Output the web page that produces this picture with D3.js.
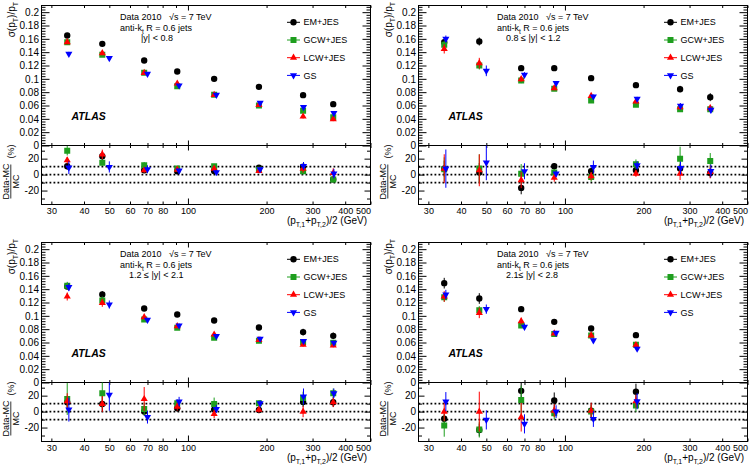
<!DOCTYPE html>
<html lang="en">
<head>
<meta charset="utf-8">
<title>Jet pT resolution, data 2010</title>
<script src="https://cdn.jsdelivr.net/npm/d3@7"></script>
<style>
  body { margin: 0; background: #fff; }
  svg { font-family: "Liberation Sans", Arial, sans-serif; }
</style>
</head>
<body>
<script>

// mean (pT1+pT2)/2 of each bin, GS points are drawn slightly shifted
var ptMean   = [34.5, 47, 68, 91, 126, 187, 276, 360];
var ptMeanGS = [35, 50, 70, 92.5, 128.5, 189, 277, 362];

var seriesNames = ["EM+JES", "GCW+JES", "LCW+JES", "GS"];
var seriesColors = ["#000000", "#1e9e1e", "#ff0000", "#0000ff"];
var rapidityText = ["|y| < 0.8", "0.8 \u2264 |y| < 1.2", "1.2 \u2264 |y| < 2.1", "2.1\u2264 |y| < 2.8"];
var xTickLabels = [30, 40, 50, 60, 70, 80, 100, 200, 300, 400, 500];

// sigma(pT)/pT, one row per rapidity panel
var resEM = [
  [0.165, 0.1525, 0.1275, 0.111, 0.100, 0.088, 0.0755, 0.062],
  [0.155, 0.156, 0.116, 0.116, 0.101, 0.0905, 0.0845, 0.0725],
  [0.144, 0.132, 0.111, 0.102, 0.093, 0.0826, 0.0756, 0.070],
  [0.149, 0.126, 0.110, 0.091, 0.081, 0.071]
];
var resGCW = [
  [0.155, 0.136, 0.109, 0.089, 0.076, 0.060, 0.052, 0.0425],
  [0.151, 0.120, 0.0975, 0.085, 0.0675, 0.061, 0.0545, 0.0545],
  [0.145, 0.123, 0.0945, 0.082, 0.067, 0.0627, 0.0607, 0.0597],
  [0.128, 0.1085, 0.0856, 0.0726, 0.0706, 0.0567]
];
var resLCW = [
  [0.155, 0.1385, 0.109, 0.093, 0.076, 0.061, 0.0435, 0.0395],
  [0.145, 0.1235, 0.0995, 0.086, 0.0745, 0.066, 0.0575, 0.056],
  [0.129, 0.1195, 0.098, 0.0846, 0.072, 0.0637, 0.0567, 0.0557],
  [0.129, 0.1045, 0.092, 0.0736, 0.0706, 0.0562]
];
var resGS = [
  [0.1375, 0.131, 0.1075, 0.090, 0.076, 0.064, 0.0575, 0.0485],
  [0.160, 0.112, 0.106, 0.0935, 0.0735, 0.070, 0.0595, 0.0535],
  [0.143, 0.117, 0.094, 0.0856, 0.0697, 0.0657, 0.0622, 0.0597],
  [0.132, 0.110, 0.0836, 0.0746, 0.0632, 0.0507]
];

// errors on sigma(pT)/pT
var resErrEM = [
  [0.002, 0.002, 0.002, 0.002, 0.002, 0.002, 0.002, 0.002],
  [0.004, 0.006, 0.004, 0.003, 0.003, 0.003, 0.005, 0.006],
  [0.004, 0.005, 0.003, 0.003, 0.003, 0.003, 0.005, 0.005],
  [0.008, 0.008, 0.004, 0.003, 0.003, 0.004]
];
var resErrGCW = [
  [0.003, 0.003, 0.002, 0.002, 0.002, 0.002, 0.003, 0.003],
  [0.006, 0.006, 0.004, 0.003, 0.003, 0.003, 0.004, 0.004],
  [0.006, 0.006, 0.003, 0.003, 0.003, 0.003, 0.004, 0.004],
  [0.007, 0.006, 0.004, 0.003, 0.003, 0.003]
];
var resErrLCW = [
  [0.003, 0.003, 0.002, 0.002, 0.002, 0.002, 0.003, 0.003],
  [0.007, 0.008, 0.004, 0.003, 0.003, 0.003, 0.004, 0.005],
  [0.006, 0.006, 0.003, 0.003, 0.003, 0.003, 0.003, 0.003],
  [0.008, 0.008, 0.005, 0.003, 0.003, 0.003]
];
var resErrGS = [
  [0.003, 0.003, 0.002, 0.002, 0.002, 0.002, 0.003, 0.003],
  [0.005, 0.008, 0.004, 0.003, 0.003, 0.003, 0.004, 0.005],
  [0.006, 0.006, 0.003, 0.003, 0.003, 0.003, 0.003, 0.003],
  [0.007, 0.007, 0.005, 0.003, 0.003, 0.003]
];

// (Data-MC)/MC in %
var diffEM = [
  [10.4, 23, 5.4, 4.2, 4.6, 8.7, 9.8, -6],
  [7.5, 2.5, -16.7, 10.4, 4.2, 5.4, 7.5, 2],
  [11.7, 9.6, 0, 4.2, 2.5, 2, 12, 11.7],
  [-9, -23, 26, 14, 1, 25]
];
var diffGCW = [
  [30, 15, 11.7, 7.5, 10.4, 6.2, 4.2, -6],
  [6.7, 7.5, 1.2, 2.5, -3, 13, 20, 17],
  [15.8, 23, 3.3, 10.4, 9.6, 10.4, 17, 23],
  [-17.5, -22.5, 14.6, -2, 0, 7.5]
];
var diffLCW = [
  [18, 25.4, 5.4, 6.2, 7.5, 4.6, 7.5, 2],
  [7.5, 5.4, -7, -4, -2, 1.2, 1.2, 3.3],
  [13, 9.6, 15.8, 6.2, -3, 2.5, 0, 11.7],
  [0, 0, -7, 1.2, 1.2, 13]
];
var diffGS = [
  [8.7, 9.6, 6.7, 5, 3, 6.7, 10.8, 1.2],
  [7.5, 15, 4.2, 1.2, 9.6, 11.7, 8.3, 4.6],
  [2.5, 21, -7, 12.5, 3.3, 10.4, 19, 23],
  [12.5, -10.4, -15.4, 0, -9.2, 13]
];

var diffErrEM = [
  [4, 6, 3, 2, 2, 2, 3, 3],
  [10, 12, 8, 4, 4, 4, 6, 6],
  [8, 10, 5, 4, 4, 3, 6, 6],
  [6, 8, 10, 10, 8, 10]
];
var diffErrGCW = [
  [6, 4, 4, 3, 3, 3, 4, 4],
  [15, 18, 12, 4, 6, 6, 15, 10],
  [20, 18, 8, 5, 8, 4, 8, 6],
  [14, 10, 18, 8, 8, 8]
];
var diffErrLCW = [
  [4, 6, 3, 3, 3, 3, 5, 6],
  [18, 20, 10, 5, 5, 4, 8, 8],
  [10, 10, 15, 5, 5, 4, 7, 6],
  [12, 25, 18, 8, 10, 8]
];
var diffErrGS = [
  [8, 7, 5, 3, 3, 3, 5, 6],
  [24, 22, 10, 4, 8, 5, 8, 8],
  [15, 20, 8, 6, 5, 4, 10, 6],
  [12, 12, 12, 8, 10, 10]
];

var resAll = [resEM, resGCW, resLCW, resGS];
var resErrAll = [resErrEM, resErrGCW, resErrLCW, resErrGS];
var diffAll = [diffEM, diffGCW, diffLCW, diffGS];
var diffErrAll = [diffErrEM, diffErrGCW, diffErrLCW, diffErrGS];
var symbols = [d3.symbolCircle, d3.symbolSquare, d3.symbolTriangle, d3.symbolTriangle];
var symbolSize = [32, 36, 22, 22];
var symbolRot = [0, 0, 0, 180];

// layout of one panel (frame), panels are shifted by panelPos
var x0 = 41.5, x1 = 370.5, yTop = 5.5, ySplit = 145.5, yBot = 204.5;
var panelPos = [[0, 0], [377, 0], [0, 237], [377, 237]];

var x = d3.scaleLog().domain([27.5, 500]).range([x0, x1]);
var yRes = d3.scaleLinear().domain([0, 0.21]).range([ySplit, yTop]);
var yDiff = d3.scaleLinear().domain([-37.5, 36.5]).range([yBot, ySplit]);

var svg = d3.select("body").append("svg")
  .attr("width", 754)
  .attr("height", 468);

var defs = svg.append("defs");
defs.append("clipPath").attr("id", "clipRes").append("rect")
  .attr("x", x0).attr("y", yTop).attr("width", x1 - x0).attr("height", ySplit - yTop);
defs.append("clipPath").attr("id", "clipDiff").append("rect")
  .attr("x", x0).attr("y", ySplit).attr("width", x1 - x0).attr("height", yBot - ySplit);

var xMinor = [30, 40, 50, 60, 70, 80, 90, 200, 300, 400, 500];
var resMajor = d3.range(0, 11).map(function(i) { return i * 0.02; });
var resMinor = d3.range(0, 53).filter(function(i) { return i % 5 != 0; }).map(function(i) { return i * 0.004; });

function noDomain(s) { s.select(".domain").remove(); }

function tickAxis(g, axis, tx, ty) {
  g.append("g")
    .attr("transform", "translate(" + tx + "," + ty + ")")
    .call(axis)
    .call(noDomain)
    .selectAll("line").attr("stroke", "#000");
}

function marker(sel, i) {
  sel.append("path")
    .attr("d", d3.symbol().type(symbols[i]).size(symbolSize[i]))
    .attr("transform", function(d) {
      return "translate(" + d.px + "," + d.py + ") rotate(" + symbolRot[i] + ")";
    })
    .attr("fill", seriesColors[i]);
}

function drawPoints(g, p, vals, errs, yScale, clipId) {
  var layer = g.append("g").attr("clip-path", "url(#" + clipId + ")");
  for (var s = 0; s < 4; s++) {
    var xs = s == 3 ? ptMeanGS : ptMean;
    var pts = vals[s][p].map(function(v, k) {
      return { px: x(xs[k]), py: yScale(v), lo: yScale(v - errs[s][p][k]), hi: yScale(v + errs[s][p][k]) };
    });
    var sg = layer.append("g");
    sg.selectAll("line").data(pts).enter().append("line")
      .attr("x1", function(d) { return d.px; })
      .attr("x2", function(d) { return d.px; })
      .attr("y1", function(d) { return d.lo; })
      .attr("y2", function(d) { return d.hi; })
      .attr("stroke", seriesColors[s])
      .attr("stroke-width", 1);
    marker(sg.selectAll("g").data(pts).enter().append("g"), s);
  }
}

panelPos.forEach(function(pos, p) {
  var g = svg.append("g").attr("transform", "translate(" + pos[0] + "," + pos[1] + ")");

  // frame
  g.append("rect")
    .attr("x", x0).attr("y", yTop)
    .attr("width", x1 - x0).attr("height", yBot - yTop)
    .attr("fill", "none").attr("stroke", "#000").attr("stroke-width", 1);
  g.append("line")
    .attr("x1", x0).attr("x2", x1).attr("y1", ySplit).attr("y2", ySplit)
    .attr("stroke", "#000").attr("stroke-width", 1);

  // x ticks on top, on both sides of the split and at the bottom
  tickAxis(g, d3.axisTop(x).tickValues(xMinor).tickSize(-2.5).tickFormat(""), 0, yTop);
  tickAxis(g, d3.axisTop(x).tickValues([100]).tickSize(-5).tickFormat(""), 0, yTop);
  tickAxis(g, d3.axisBottom(x).tickValues(xMinor).tickSize(-2.5).tickFormat(""), 0, ySplit);
  tickAxis(g, d3.axisBottom(x).tickValues([100]).tickSize(-5).tickFormat(""), 0, ySplit);
  tickAxis(g, d3.axisTop(x).tickValues(xMinor).tickSize(-2.5).tickFormat(""), 0, ySplit);
  tickAxis(g, d3.axisTop(x).tickValues([100]).tickSize(-5).tickFormat(""), 0, ySplit);
  tickAxis(g, d3.axisBottom(x).tickValues(xMinor).tickSize(-3).tickFormat(""), 0, yBot);
  tickAxis(g, d3.axisBottom(x).tickValues([100]).tickSize(-6).tickFormat(""), 0, yBot);

  // y ticks, left and right
  tickAxis(g, d3.axisLeft(yRes).tickValues(resMajor).tickSize(-8).tickFormat(""), x0, 0);
  tickAxis(g, d3.axisLeft(yRes).tickValues(resMinor).tickSize(-4).tickFormat(""), x0, 0);
  tickAxis(g, d3.axisRight(yRes).tickValues(resMajor).tickSize(-8).tickFormat(""), x1, 0);
  tickAxis(g, d3.axisRight(yRes).tickValues(resMinor).tickSize(-4).tickFormat(""), x1, 0);
  tickAxis(g, d3.axisLeft(yDiff).tickValues([-20, 0, 20]).tickSize(-6).tickFormat(""), x0, 0);
  tickAxis(g, d3.axisLeft(yDiff).tickValues([-30, -10, 10, 30]).tickSize(-3.5).tickFormat(""), x0, 0);
  tickAxis(g, d3.axisRight(yDiff).tickValues([-20, 0, 20]).tickSize(-6).tickFormat(""), x1, 0);
  tickAxis(g, d3.axisRight(yDiff).tickValues([-30, -10, 10, 30]).tickSize(-3.5).tickFormat(""), x1, 0);

  // tick labels
  var resLab = g.append("g").attr("transform", "translate(" + x0 + ",0)")
    .call(d3.axisLeft(yRes).tickValues(resMajor).tickSize(0).tickPadding(2.5).tickFormat(d3.format("~g")))
    .call(noDomain);
  resLab.selectAll("text").attr("font-size", 10).attr("fill", "#000")
    .attr("font-family", "Liberation Sans, Arial, sans-serif");

  var diffLab = g.append("g").attr("transform", "translate(" + x0 + ",0)")
    .call(d3.axisLeft(yDiff).tickValues([-20, 20]).tickSize(0).tickPadding(2.5).tickFormat(function(d) { return String(d); }))
    .call(noDomain);
  diffLab.selectAll("text").attr("font-size", 10).attr("fill", "#000")
    .attr("font-family", "Liberation Sans, Arial, sans-serif");
  // the 0 of the ratio
  g.append("text").attr("x", x0 - 2.5).attr("y", yDiff(0)).attr("dy", "0.32em")
    .attr("text-anchor", "end").attr("font-size", 10).text("0");

  var xLab = g.append("g").attr("transform", "translate(0," + yBot + ")")
    .call(d3.axisBottom(x).tickValues(xTickLabels).tickSize(0).tickPadding(3.5).tickFormat(d3.format("d")))
    .call(noDomain);
  xLab.selectAll("text").attr("font-size", 9).attr("fill", "#000")
    .attr("font-family", "Liberation Sans, Arial, sans-serif");
  xLab.selectAll("text").filter(function(d) { return d == 500; }).attr("text-anchor", "end");

  // dotted reference lines in the ratio
  g.append("g").selectAll("line").data([10, 0, -10]).enter().append("line")
    .attr("x1", x0).attr("x2", x1)
    .attr("y1", function(d) { return yDiff(d); })
    .attr("y2", function(d) { return yDiff(d); })
    .attr("stroke", "#000").attr("stroke-width", 1.8)
    .attr("stroke-dasharray", "1.8,2.2");

  drawPoints(g, p, resAll, resErrAll, yRes, "clipRes");
  drawPoints(g, p, diffAll, diffErrAll, yDiff, "clipDiff");

  // axis titles
  var yt = g.append("text").attr("transform", "translate(14.5,2) rotate(-90)")
    .attr("text-anchor", "end").attr("font-size", 10);
  yt.append("tspan").text("\u03c3(p");
  yt.append("tspan").attr("font-size", 7).attr("dy", 3).text("T");
  yt.append("tspan").attr("dy", -3).text(")/p");
  yt.append("tspan").attr("font-size", 7).attr("dy", 3).text("T");

  var fracMid = 181.5;
  g.append("text").attr("transform", "translate(9," + fracMid + ") rotate(-90)")
    .attr("text-anchor", "middle").attr("font-size", 9).text("Data-MC");
  g.append("text").attr("transform", "translate(18.5," + fracMid + ") rotate(-90)")
    .attr("text-anchor", "middle").attr("font-size", 9).text("MC");
  g.append("line").attr("x1", 10.8).attr("x2", 10.8)
    .attr("y1", fracMid - 17).attr("y2", fracMid + 17)
    .attr("stroke", "#000").attr("stroke-width", 0.8);
  g.append("text").attr("transform", "translate(14,151.5) rotate(-90)")
    .attr("text-anchor", "middle").attr("font-size", 9).text("(%)");

  var xt = g.append("text").attr("x", 367).attr("y", 224)
    .attr("text-anchor", "end").attr("font-size", 10);
  xt.append("tspan").text("(p");
  xt.append("tspan").attr("font-size", 7).attr("dy", 3).text("T,1");
  xt.append("tspan").attr("dy", -3).text("+p");
  xt.append("tspan").attr("font-size", 7).attr("dy", 3).text("T,2");
  xt.append("tspan").attr("dy", -3).text(")/2 (GeV)");

  // info text
  g.append("text").attr("x", 120).attr("y", yTop + 14).attr("font-size", 9).text("Data 2010");
  g.append("text").attr("x", 169).attr("y", yTop + 14).attr("font-size", 9).text("\u221as = 7 TeV");
  var ak = g.append("text").attr("x", 120).attr("y", yTop + 25.5).attr("font-size", 9);
  ak.append("tspan").text("anti-k");
  ak.append("tspan").attr("font-size", 6.5).attr("dy", 2.5).text("t");
  ak.append("tspan").attr("dy", -2.5).text(" R = 0.6 jets");
  g.append("text").attr("x", p == 0 ? 141 : 129).attr("y", yTop + 35.5)
    .attr("font-size", 9).text(rapidityText[p]);

  g.append("text").attr("x", 71.5).attr("y", yTop + 114.5)
    .attr("font-size", 10.5).attr("font-weight", "bold").attr("font-style", "italic")
    .text("ATLAS");

  // legend
  var leg = g.append("g").selectAll("g").data(seriesNames).enter().append("g")
    .attr("transform", function(d, i) { return "translate(0," + (yTop + 16.8 + i * 17.7) + ")"; });
  leg.append("line").attr("x1", 287).attr("x2", 300).attr("y1", 0).attr("y2", 0)
    .attr("stroke", function(d, i) { return seriesColors[i]; }).attr("stroke-width", 1);
  leg.each(function(d, i) {
    d3.select(this).append("path")
      .attr("d", d3.symbol().type(symbols[i]).size(symbolSize[i]))
      .attr("transform", "translate(293.5,0) rotate(" + symbolRot[i] + ")")
      .attr("fill", seriesColors[i]);
  });
  leg.append("text").attr("x", 303.5).attr("y", 0).attr("dy", "0.35em")
    .attr("font-size", 9).text(function(d) { return d; });
});

</script>
</body>
</html>
